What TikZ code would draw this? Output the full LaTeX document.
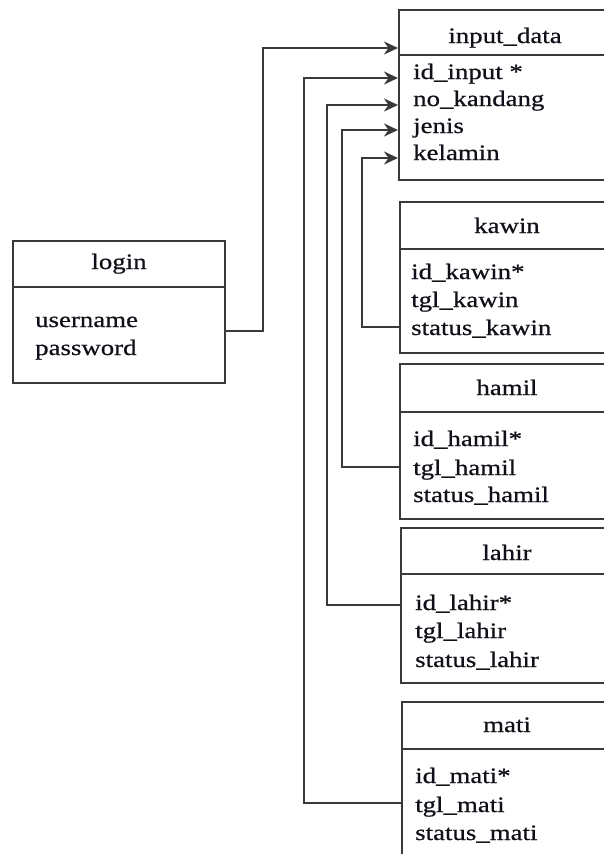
\documentclass[tikz,border=0pt]{standalone}
\usepackage{fontspec}
\setmainfont[FakeStretch=1.22,FakeBold=0.6]{Liberation Serif}
\usetikzlibrary{arrows.meta}
\definecolor{linec}{HTML}{3A3A3A}
\definecolor{txtc}{HTML}{101018}
\begin{document}
\begin{tikzpicture}[x=1pt,y=-1pt,
  boxline/.style={draw=linec,line width=2.4pt},
  conn/.style={draw=linec,line width=2.4pt,-{Stealth[length=14pt,width=13pt]}},
  lbl/.style={font=\fontsize{22}{26}\selectfont, text=txtc, inner sep=0pt, anchor=base west},
  ttl/.style={font=\fontsize{22}{26}\selectfont, text=txtc, inner sep=0pt, anchor=base}]
\useasboundingbox (0,0) rectangle (604,854);
\fill[white] (0,0) rectangle (604,854);
\clip (0,0) rectangle (604,854);

% ---------- input_data ----------
\draw[boxline] (399,10) rectangle (612,180);
\draw[boxline] (399,55) -- (612,55);
\node[ttl] (inT) at (505,43) {input\_data};
\node[lbl] (in1) at (413,79) {id\_input *};
\node[lbl] (in2) at (413,106) {no\_kandang};
\node[lbl] (in3) at (413,133) {jenis};
\node[lbl] (in4) at (413,160) {kelamin};

% ---------- login ----------
\draw[boxline] (13,241) rectangle (225,383);
\draw[boxline] (13,287) -- (225,287);
\node[ttl] (loT) at (119,269) {login};
\node[lbl] (lo1) at (35,327) {username};
\node[lbl] (lo2) at (35,355) {password};

% ---------- kawin ----------
\draw[boxline] (400,202) rectangle (612,353);
\draw[boxline] (400,249) -- (612,249);
\node[ttl] (kaT) at (507,233) {kawin};
\node[lbl] (ka1) at (411,279) {id\_kawin*};
\node[lbl] (ka2) at (411,307) {tgl\_kawin};
\node[lbl] (ka3) at (411,335) {status\_kawin};

% ---------- hamil ----------
\draw[boxline] (400,364) rectangle (612,519);
\draw[boxline] (400,412) -- (612,412);
\node[ttl] (haT) at (507,395) {hamil};
\node[lbl] (ha1) at (413,446) {id\_hamil*};
\node[lbl] (ha2) at (413,475) {tgl\_hamil};
\node[lbl] (ha3) at (413,502) {status\_hamil};

% ---------- lahir ----------
\draw[boxline] (401,528) rectangle (612,683);
\draw[boxline] (401,574) -- (612,574);
\node[ttl] (laT) at (507,560) {lahir};
\node[lbl] (la1) at (415,610) {id\_lahir*};
\node[lbl] (la2) at (415,638) {tgl\_lahir};
\node[lbl] (la3) at (415,667) {status\_lahir};

% ---------- mati ----------
\draw[boxline] (402,702) rectangle (612,880);
\draw[boxline] (402,749) -- (612,749);
\node[ttl] (maT) at (507,732) {mati};
\node[lbl] (ma1) at (415,783) {id\_mati*};
\node[lbl] (ma2) at (415,812) {tgl\_mati};
\node[lbl] (ma3) at (415,840) {status\_mati};

% ---------- connection points ----------
\coordinate (loginOut) at (225,331);
\coordinate (kawinOut) at (400,327);
\coordinate (hamilOut) at (400,467);
\coordinate (lahirOut) at (401,605);
\coordinate (matiOut)  at (402,803);
\coordinate (inTitle) at (398,48);
\coordinate (inId)    at (398,78);
\coordinate (inNo)    at (398,105);
\coordinate (inJen)   at (398,130);
\coordinate (inKel)   at (398,158);

% ---------- connectors ----------
\draw[conn] (loginOut) -- ++(38,0) |- (inTitle);
\draw[conn] (matiOut)  -- ++(-98,0) |- (inId);
\draw[conn] (lahirOut) -- ++(-74,0) |- (inNo);
\draw[conn] (hamilOut) -- ++(-58,0) |- (inJen);
\draw[conn] (kawinOut) -- ++(-38,0) |- (inKel);
\end{tikzpicture}
\end{document}
